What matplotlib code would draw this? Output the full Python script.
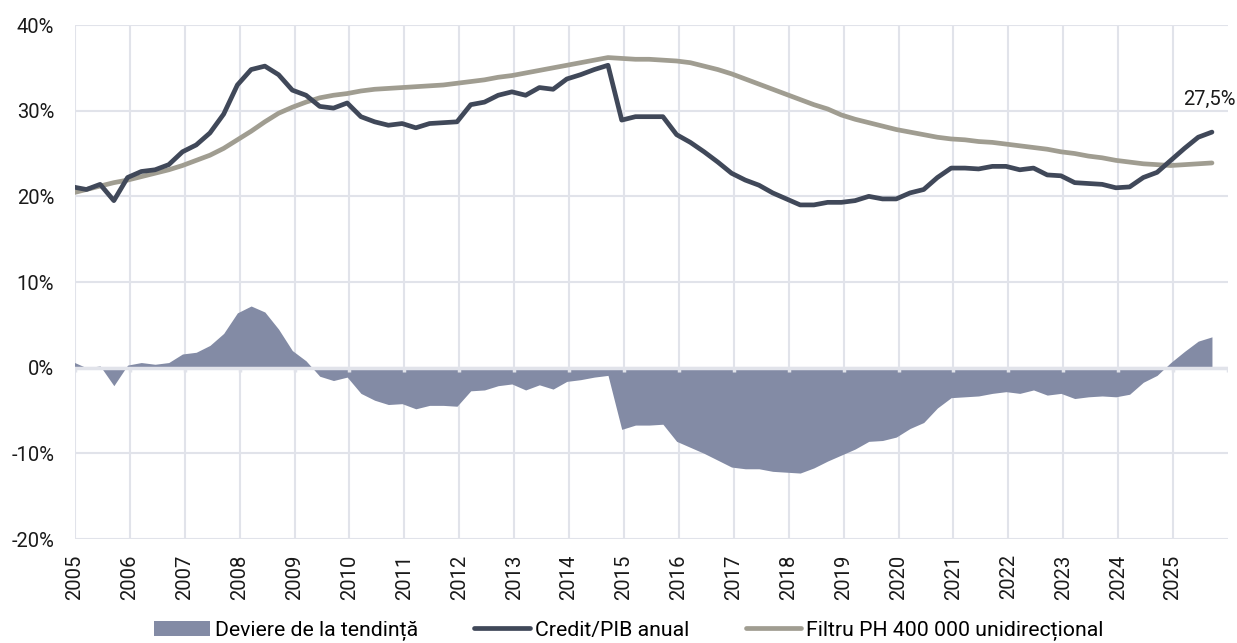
"""
Credit/PIB anual vs. trend (filtru HP unidirectional) si deviatia de la trend.
Date trimestriale, dec. 2004 - sep. 2025.
"""
import numpy as np
import pandas as pd
import matplotlib
matplotlib.use("Agg")
import matplotlib.pyplot as plt
from matplotlib.ticker import FuncFormatter, MultipleLocator

plt.rcParams["font.family"] = ["Roboto", "DejaVu Sans"]

# ---- data (%) ----
QUARTERS = pd.period_range("2004Q4", "2025Q3", freq="Q")

CREDIT_GDP = [21.1, 20.8, 21.4, 19.5, 22.2, 22.9, 23.1, 23.7, 25.2, 26.0,
              27.4, 29.6, 33.0, 34.8, 35.2, 34.2, 32.4, 31.8, 30.5, 30.3,
              30.9, 29.3, 28.7, 28.3, 28.5, 28.0, 28.5, 28.6, 28.7, 30.7,
              31.0, 31.8, 32.2, 31.8, 32.7, 32.5, 33.7, 34.2, 34.8, 35.3,
              28.9, 29.3, 29.3, 29.3, 27.2, 26.3, 25.2, 24.0, 22.7, 21.9,
              21.3, 20.4, 19.7, 19.0, 19.0, 19.3, 19.3, 19.5, 20.0, 19.7,
              19.7, 20.4, 20.8, 22.2, 23.3, 23.3, 23.2, 23.5, 23.5, 23.1,
              23.3, 22.5, 22.4, 21.6, 21.5, 21.4, 21.0, 21.1, 22.2, 22.8,
              24.2, 25.6, 26.9, 27.5]

HP_TREND = [20.4, 20.8, 21.2, 21.6, 21.9, 22.3, 22.7, 23.1, 23.6, 24.2,
            24.8, 25.6, 26.6, 27.6, 28.7, 29.7, 30.4, 31.0, 31.5, 31.8,
            32.0, 32.3, 32.5, 32.6, 32.7, 32.8, 32.9, 33.0, 33.2, 33.4,
            33.6, 33.9, 34.1, 34.4, 34.7, 35.0, 35.3, 35.6, 35.9, 36.2,
            36.1, 36.0, 36.0, 35.9, 35.8, 35.6, 35.2, 34.8, 34.3, 33.7,
            33.1, 32.5, 31.9, 31.3, 30.7, 30.2, 29.5, 29.0, 28.6, 28.2,
            27.8, 27.5, 27.2, 26.9, 26.7, 26.6, 26.4, 26.3, 26.1, 25.9,
            25.7, 25.5, 25.2, 25.0, 24.7, 24.5, 24.2, 24.0, 23.8, 23.7,
            23.6, 23.7, 23.8, 23.9]

DEVIATION = [0.7, 0.0, 0.2, -2.1, 0.3, 0.6, 0.4, 0.6, 1.6, 1.8,
             2.6, 4.0, 6.4, 7.2, 6.5, 4.5, 2.0, 0.8, -1.0, -1.5,
             -1.1, -3.0, -3.8, -4.3, -4.2, -4.8, -4.4, -4.4, -4.5, -2.7,
             -2.6, -2.1, -1.9, -2.6, -2.0, -2.5, -1.6, -1.4, -1.1, -0.9,
             -7.2, -6.7, -6.7, -6.6, -8.6, -9.3, -10.0, -10.8, -11.6, -11.8,
             -11.8, -12.1, -12.2, -12.3, -11.7, -10.9, -10.2, -9.5, -8.6, -8.5,
             -8.1, -7.1, -6.4, -4.7, -3.5, -3.4, -3.3, -3.0, -2.8, -3.0,
             -2.6, -3.2, -3.0, -3.6, -3.4, -3.3, -3.4, -3.1, -1.7, -0.9,
             0.6, 1.9, 3.1, 3.6]

YEARS = list(range(2005, 2026))
LAST_LABEL = "27,5%"

C_FILL = "#838ba5"
C_CREDIT = "#404859"
C_TREND = "#a09d91"
C_GRID = "#e1e3ea"
C_TEXT = "#1a1a1a"


def main():
    # quarter-end month, placed mid-month on a year axis
    t = np.array([p.year + (p.month - 0.5) / 12 for p in QUARTERS.asfreq("M", how="end")])

    fig = plt.figure(figsize=(12.37, 6.43), dpi=100)
    ax = fig.add_axes([0.0606, 0.1617, 0.9321, 0.7994])

    ax.set_xlim(2005, 2026)
    ax.set_ylim(-20, 40)
    ax.xaxis.set_major_locator(MultipleLocator(1))
    ax.yaxis.set_major_locator(MultipleLocator(10))
    ax.grid(True, color=C_GRID, lw=1.5, zorder=0)
    ax.set_axisbelow(True)
    for s in ax.spines.values():
        s.set_visible(False)

    ax.fill_between(t, DEVIATION, 0, color=C_FILL, lw=0, zorder=2,
                    label="Deviere de la tendință")
    ax.axhline(0, color=C_GRID, lw=2.5, zorder=3)
    ax.vlines(YEARS + [2026], -0.45, 0, color=C_GRID, lw=2.5, zorder=3)
    ax.plot(t, CREDIT_GDP, color=C_CREDIT, lw=3.4, zorder=5,
            solid_capstyle="round", label="Credit/PIB anual")
    ax.plot(t, HP_TREND, color=C_TREND, lw=3.4, zorder=4,
            solid_capstyle="round", label="Filtru PH 400 000 unidirecțional")

    ax.annotate(LAST_LABEL, (t[-1], CREDIT_GDP[-1]), xytext=(-3, 33),
                textcoords="offset pixels", ha="center", va="center",
                fontsize=14.5, color=C_TEXT, annotation_clip=False)

    ax.set_xticks(YEARS)
    ax.set_xticklabels([str(y) for y in YEARS], rotation=90, fontsize=14.6,
                       color=C_TEXT)
    ax.yaxis.set_major_formatter(FuncFormatter(lambda v, _: f"{v:.0f}%"))
    ax.tick_params(axis="y", length=0, pad=15, labelsize=14.5, labelcolor=C_TEXT)
    ax.tick_params(axis="x", length=0, pad=11)

    h, l = ax.get_legend_handles_labels()
    fig.legend(h, l, loc="center", bbox_to_anchor=(0.5085, 0.019), ncol=3,
               frameon=False, fontsize=15.3, handlelength=2.6,
               handletextpad=0.25, columnspacing=2.65)

    fig.savefig("out.png", dpi=100)
    plt.close(fig)


if __name__ == "__main__":
    main()
